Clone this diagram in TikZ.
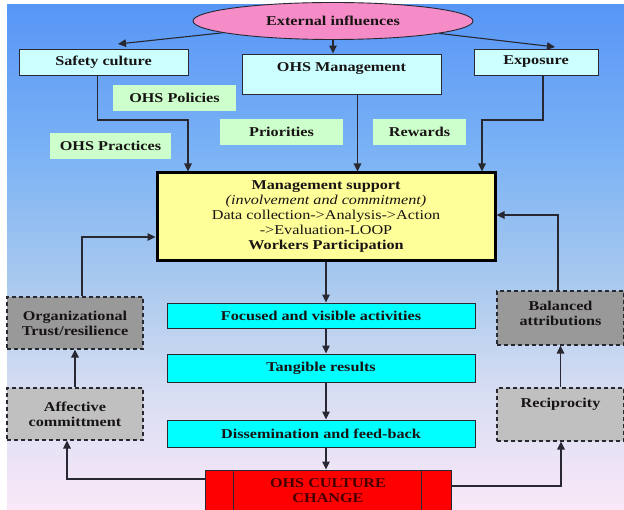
\documentclass[tikz,border=0pt]{standalone}
\usepackage{fontspec}
\setmainfont{Liberation Serif}[FakeStretch=1.2]
\usetikzlibrary{arrows.meta,shapes.geometric,calc}
\definecolor{bgA}{RGB}{88,150,246}
\definecolor{bgB}{RGB}{122,178,245}
\definecolor{bgC}{RGB}{168,201,238}
\definecolor{bgD}{RGB}{214,221,242}
\definecolor{bgE}{RGB}{250,232,248}
\definecolor{edge}{RGB}{40,40,50}
\definecolor{txt}{RGB}{25,20,20}
\definecolor{pinkc}{RGB}{245,140,200}
\definecolor{lcyanc}{RGB}{204,255,255}
\definecolor{lgreenc}{RGB}{204,255,204}
\definecolor{yellowc}{RGB}{255,255,153}
\definecolor{cyanc}{RGB}{0,255,255}
\definecolor{dgrayc}{RGB}{153,153,153}
\definecolor{lgrayc}{RGB}{192,192,192}
\definecolor{redc}{RGB}{255,0,0}
\definecolor{redtxt}{RGB}{70,0,0}
\pgfdeclareverticalshading{bgshade}{100bp}{color(0bp)=(bgE); color(25bp)=(bgE); color(36.9bp)=(bgD); color(47.8bp)=(bgC); color(60.6bp)=(bgB); color(75bp)=(bgA); color(100bp)=(bgA)}
\tikzset{
  base/.style={font=\fontsize{13.5}{15}\selectfont\bfseries, text=txt, align=center, inner sep=0pt},
  lbox/.style={base, draw=edge, fill=lcyanc, line width=0.9pt},
  glab/.style={base, fill=lgreenc},
  cbox/.style={base, draw=edge, fill=cyanc, line width=0.9pt, minimum width=308pt},
  dbox/.style={base, draw=edge, line width=1.1pt, dash pattern=on 4pt off 3pt},
  arr/.style={draw=edge, line width=1.1pt, -{Triangle[length=8pt,width=7.5pt]}}
}
\begin{document}
\begin{tikzpicture}[x=1pt,y=-1pt]
\useasboundingbox (0,0) rectangle (624,510);
\clip (0,0) rectangle (624,510);
\shade[shading=bgshade] (7,5) rectangle (624,510);

% top row
\node[ellipse, base, draw=edge, fill=pinkc, line width=0.9pt, minimum width=280pt, minimum height=37pt] (ext) at (333,21) {External influences};
\node[lbox, minimum width=169pt, minimum height=26pt] (safety) at (103.5,62) {Safety culture};
\node[lbox, minimum width=199pt, minimum height=40pt] (ohsm) at (341.5,74) {\raisebox{0pt}[\height][\dimexpr\depth+10pt]{OHS Management}};
\node[lbox, minimum width=124pt, minimum height=26pt] (expo) at (536,62) {Exposure};

% green labels
\node[glab, minimum width=123pt, minimum height=26pt] (pol) at (174.5,98) {OHS Policies};
\node[glab, minimum width=121pt, minimum height=26pt] (prac) at (110.5,146) {OHS Practices};
\node[glab, minimum width=123pt, minimum height=26pt] (prio) at (281.5,132) {Priorities};
\node[glab, minimum width=93pt, minimum height=26pt] (rew) at (419.5,132) {Rewards};

% management support
\node[base, draw=black, fill=yellowc, line width=3pt, minimum width=338pt, minimum height=88pt] (mgmt) at (326,217)
 {Management support\\
  {\mdseries\itshape (involvement and commitment)}\\
  {\mdseries Data collection->Analysis->Action}\\
  {\mdseries ->Evaluation-LOOP}\\
  Workers Participation};

% central chain
\node[cbox, minimum height=25pt] (focus) at (321,315.5) {Focused and visible activities};
\node[cbox, minimum height=28pt] (tang) at (321,368) {Tangible results};
\node[cbox, minimum height=27pt] (diss) at (321,433.5) {Dissemination and feed-back};
\node[base, draw=edge, fill=redc, text=redtxt, line width=0.9pt, minimum width=246pt, minimum height=42pt] (red) at (328,491) {OHS CULTURE\\CHANGE};
\draw[edge, line width=0.9pt] ([xshift=29pt]red.north west) -- ([xshift=29pt]red.south west);
\draw[edge, line width=0.9pt] ([xshift=-30pt]red.north east) -- ([xshift=-30pt]red.south east);

% side boxes
\node[dbox, fill=dgrayc, minimum width=136pt, minimum height=52pt] (trust) at (75,323) {Organizational\\Trust/resilience};
\node[dbox, fill=dgrayc, minimum width=127pt, minimum height=54pt] (bal) at (560.5,318) {\raisebox{0pt}[\height][\dimexpr\depth+6pt]{\begin{tabular}{@{}c@{}}Balanced\\attributions\end{tabular}}};
\node[dbox, fill=lgrayc, minimum width=136pt, minimum height=52pt] (aff) at (75,414) {Affective\\committment};
\node[dbox, fill=lgrayc, minimum width=127pt, minimum height=53pt] (rec) at (560.5,414.5) {\raisebox{0pt}[\height][\dimexpr\depth+20pt]{Reciprocity}};

% coordinates for free ends and bends
\coordinate (s1) at (118,44);
\coordinate (e2) at (555,47);
\coordinate (c1) at (188,120);
\coordinate (c2) at (482,120);
\coordinate (t1) at (82,237);
\coordinate (b1) at (558,215);
\coordinate (r1) at (67,479);
\coordinate (r2) at (561,486);

% connectors
\draw[arr] (ext) -- (s1);
\draw[arr] (ext) -- (e2);
\draw[arr] (ext.south) -- (ext.south |- ohsm.north);
\draw[arr] ([xshift=-6pt]safety.south) |- (c1) -- (c1 |- mgmt.north);
\draw[arr] ([xshift=7pt]expo.south) |- (c2) -- (c2 |- mgmt.north);
\draw[arr] ([xshift=16pt]ohsm.south) -- ([xshift=16pt]ohsm.south |- mgmt.north);
\draw[arr] (mgmt.south) -- (mgmt.south |- focus.north);
\draw[arr] (focus.south -| mgmt.south) -- (tang.north -| mgmt.south);
\draw[arr] (tang.south -| mgmt.south) -- (diss.north -| mgmt.south);
\draw[arr] (diss.south -| mgmt.south) -- (red.north -| mgmt.south);
\draw[arr] (trust.north -| t1) |- (mgmt.west |- t1);
\draw[arr] (bal.north -| b1) |- (mgmt.east |- b1);
\draw[arr] (aff.north) -- (trust.south);
\draw[arr] (rec.north) -- (bal.south);
\draw[arr] (red.west |- r1) -| (aff.south -| r1);
\draw[arr] (red.east |- r2) -| (rec.south -| r2);
\end{tikzpicture}
\end{document}
